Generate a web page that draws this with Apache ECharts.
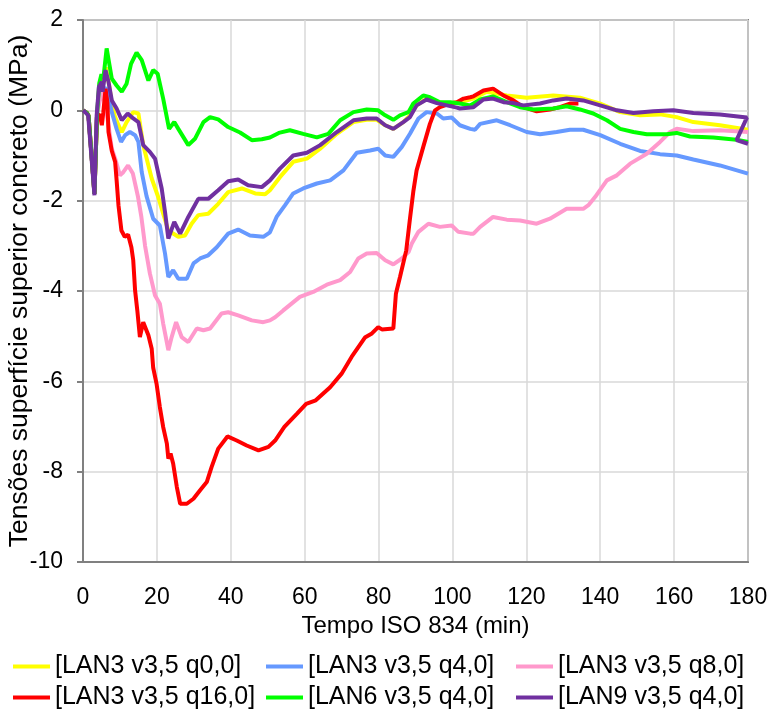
<!DOCTYPE html>
<html>
<head>
<meta charset="utf-8">
<script src="https://cdn.jsdelivr.net/npm/echarts@6/dist/echarts.min.js"></script>
<style>
html,body{margin:0;padding:0;background:#fff;}
#chart{width:771px;height:718px;}
</style>
</head>
<body>
<div id="chart"></div>
<script>
// ---- data ([time (min), stress (MPa)]) ----
const names = ['[LAN3 v3,5 q0,0]','[LAN3 v3,5 q4,0]','[LAN3 v3,5 q8,0]','[LAN3 v3,5 q16,0]','[LAN6 v3,5 q4,0]','[LAN9 v3,5 q4,0]'];
const colors = ['#FFFF00','#6699FF','#FF99CC','#FF0000','#00FF00','#7030A0'];
const xTicks = {min:0, max:180, interval:20};
const yTicks = {min:-10, max:2, interval:2};

const lan3q0 = [[0,0],[1,-0.05],[1.5,-0.12],[3.1,-1.85],[3.8,-0.1],[4.4,0.5],[5.2,0.55],[6.2,0.95],[7,0.6],[7.8,0.15],[8.7,-0.15],[9.6,-0.33],[10.5,-0.48],[11.8,-0.26],[13.6,-0.04],[15,-0.07],[16.3,-0.77],[18.6,-1.51],[20.4,-1.93],[21.7,-2.29],[23.1,-2.66],[25.8,-2.8],[27.6,-2.77],[29.4,-2.51],[31.2,-2.32],[33.9,-2.29],[36.6,-2.07],[39.3,-1.81],[43,-1.73],[46.6,-1.84],[49.3,-1.86],[50.6,-1.77],[53.3,-1.48],[56.9,-1.14],[60.6,-1.07],[64.2,-0.85],[68.7,-0.52],[73.2,-0.26],[76.8,-0.21],[79.5,-0.21],[81.8,-0.33],[84,-0.41],[86.7,-0.26],[88.5,-0.11],[90.3,0.11],[93,0.26],[95.8,0.18],[98.5,0.15],[102,0.18],[105.7,0.26],[109.3,0.41],[114.7,0.33],[120.1,0.28],[127.3,0.33],[134.5,0.28],[140,0.15],[145.4,-0.04],[150.8,-0.11],[156.2,-0.09],[160.7,-0.15],[165.2,-0.26],[172.4,-0.33],[180,-0.43]];

const lan3q4 = [[0,0],[1,-0.05],[1.5,-0.12],[3.1,-1.85],[3.8,-0.1],[4.4,0.4],[5.2,0.5],[6.4,0.48],[7.8,-0.04],[9.1,-0.41],[10.3,-0.7],[11.4,-0.55],[12.7,-0.48],[14.1,-0.55],[15,-0.7],[15.9,-1.37],[17.2,-1.9],[19,-2.4],[20.8,-2.55],[22.2,-3.17],[23.1,-3.69],[24.4,-3.54],[25.8,-3.73],[28.1,-3.73],[29.9,-3.39],[31.7,-3.28],[33.9,-3.21],[36.2,-3.03],[39.3,-2.73],[42,-2.64],[45.2,-2.77],[48.8,-2.8],[50.6,-2.7],[52.4,-2.36],[54.7,-2.1],[56.9,-1.84],[59.6,-1.73],[63.3,-1.62],[66.9,-1.55],[70.5,-1.33],[74.1,-0.94],[77.7,-0.89],[79.9,-0.85],[81.8,-1.0],[84,-1.03],[86.3,-0.81],[88.5,-0.52],[90.8,-0.18],[93,-0.04],[95.8,-0.07],[97.5,-0.18],[99.8,-0.16],[102,-0.33],[104.8,-0.41],[106.1,-0.43],[107.5,-0.3],[112,-0.22],[115.6,-0.33],[120.1,-0.48],[123.7,-0.53],[128.2,-0.48],[131.8,-0.43],[135.4,-0.43],[140,-0.55],[145.4,-0.74],[150.8,-0.9],[156.2,-0.97],[160.7,-1.0],[165.2,-1.09],[172.4,-1.22],[180,-1.4]];

const lan3q8 = [[0,0],[1,-0.05],[1.5,-0.12],[3.1,-1.85],[3.8,-0.1],[4.5,0.2],[5.3,0.4],[6.1,0.1],[6.9,-0.33],[7.8,-0.85],[8.7,-1.07],[10,-1.44],[10.9,-1.37],[12.2,-1.22],[13.5,-1.4],[14.9,-1.92],[15.8,-2.36],[16.8,-3.0],[18.1,-3.61],[19.5,-4.1],[20.8,-4.28],[21.7,-4.72],[23.1,-5.31],[24,-5.02],[25.2,-4.69],[26.7,-5.02],[28.5,-5.13],[30.8,-4.83],[32.6,-4.87],[34.4,-4.83],[37.5,-4.5],[39.3,-4.47],[42,-4.54],[45.7,-4.65],[48.8,-4.69],[50.6,-4.65],[52,-4.58],[54.2,-4.43],[58.7,-4.13],[62.3,-4.02],[66,-3.86],[69.6,-3.76],[72.3,-3.58],[74.5,-3.28],[76.8,-3.17],[79.5,-3.16],[81.8,-3.32],[84,-3.41],[86.3,-3.28],[88.1,-3.14],[89,-2.95],[90.8,-2.69],[93.5,-2.51],[96.6,-2.58],[99.8,-2.55],[101.6,-2.69],[104.8,-2.73],[105.7,-2.73],[107.5,-2.58],[111,-2.36],[114.7,-2.42],[118.3,-2.44],[122.8,-2.51],[126.4,-2.4],[130.9,-2.18],[135.4,-2.18],[136.8,-2.1],[138.6,-1.92],[141.8,-1.55],[144.5,-1.44],[148.1,-1.18],[152.6,-0.96],[156.2,-0.7],[158.9,-0.48],[160.7,-0.41],[165.2,-0.46],[172.4,-0.44],[180,-0.48]];

const lan3q16 = [[0,0],[1,-0.05],[1.5,-0.12],[3.1,-1.85],[3.8,-0.1],[4.6,-0.11],[5.1,-0.33],[5.5,-0.04],[6.1,0.48],[6.6,0.18],[6.9,-0.48],[7.8,-0.9],[8.7,-1.14],[9.1,-1.55],[9.6,-2.1],[10.4,-2.66],[11.3,-2.8],[12.2,-2.75],[13.1,-3.03],[13.6,-3.32],[14.1,-3.99],[14.7,-4.43],[15.4,-5.02],[16.3,-4.69],[17.7,-4.98],[18.6,-5.28],[19,-5.7],[19.9,-6.05],[20.8,-6.57],[21.7,-7.01],[22.7,-7.38],[23.1,-7.71],[23.7,-7.6],[24.4,-7.82],[25.4,-8.34],[26.3,-8.71],[28.1,-8.71],[29.9,-8.6],[31.7,-8.41],[33.5,-8.23],[34.8,-7.9],[36.6,-7.49],[39.1,-7.22],[41.6,-7.31],[44.3,-7.42],[47.5,-7.53],[50.2,-7.45],[52,-7.31],[54.5,-7.01],[58,-6.71],[60.4,-6.5],[63,-6.42],[66.9,-6.13],[70,-5.83],[72.7,-5.46],[76.3,-5.03],[78.2,-4.94],[79.9,-4.8],[80.9,-4.85],[84,-4.83],[84.7,-4.06],[85.8,-3.69],[87.5,-3.1],[88.5,-2.4],[89.4,-1.8],[90.3,-1.33],[92.1,-0.81],[93.9,-0.3],[95.3,0],[96.6,0.07],[99.4,0.15],[101.2,0.18],[103,0.26],[104.8,0.29],[105.7,0.31],[108.4,0.44],[111,0.48],[113.8,0.33],[116.5,0.22],[119.2,0.07],[122.8,-0.02],[126.4,0.02],[129.1,0.07],[131.8,0.15],[134.1,0.15]];

const lan6q4 = [[0,0],[1,-0.05],[1.5,-0.12],[3.1,-1.85],[3.8,-0.1],[4.4,0.6],[5,0.8],[5.5,0.7],[6.4,1.37],[7.8,0.7],[9.1,0.55],[10.5,0.41],[11.8,0.59],[13,1.03],[14.5,1.28],[15.9,1.11],[17.7,0.66],[19,0.89],[20.2,0.81],[21.7,0.26],[23.3,-0.41],[24.7,-0.26],[25.8,-0.41],[28.5,-0.77],[30.3,-0.63],[32.6,-0.26],[34.4,-0.15],[36.6,-0.2],[39.3,-0.37],[42.5,-0.49],[45.7,-0.66],[48.4,-0.64],[50.6,-0.6],[53,-0.5],[56,-0.44],[59.6,-0.52],[63.3,-0.6],[66.4,-0.52],[69.6,-0.22],[73.2,-0.04],[76.8,0.02],[79.9,0],[81.8,-0.11],[84,-0.21],[85.8,-0.11],[88.1,-0.04],[89.4,0.15],[92.1,0.33],[93.9,0.29],[96.6,0.18],[99.4,0.18],[102,0.15],[104.8,0.11],[107.5,0.24],[111,0.31],[114.7,0.18],[118.3,0.07],[121.9,0.02],[127.3,0.04],[130.9,0.09],[134.5,0.02],[138.1,-0.07],[141.8,-0.22],[145.4,-0.41],[149,-0.48],[152.6,-0.53],[158,-0.53],[160.7,-0.5],[164.3,-0.58],[170.6,-0.6],[176.9,-0.65],[180,-0.7]];

const lan9q4 = [[0,0],[0.6,-0.04],[1.4,-0.11],[3.1,-1.88],[3.7,-0.11],[4.3,0.52],[5.1,0.63],[5.3,0.41],[6.1,0.89],[6.9,0.63],[7.8,0.22],[9.1,0.04],[10.5,-0.22],[12.1,-0.07],[13.6,-0.18],[15,-0.26],[16.3,-0.77],[18.1,-0.92],[19.5,-1.07],[21.3,-1.73],[22.2,-2.25],[23.1,-2.84],[24.7,-2.47],[26.3,-2.73],[28.5,-2.36],[31.2,-1.96],[33.9,-1.96],[36.6,-1.77],[39.3,-1.57],[42,-1.53],[44.7,-1.66],[48.4,-1.7],[50.6,-1.55],[53.3,-1.29],[56.9,-1.0],[60.6,-0.94],[64.2,-0.77],[68.7,-0.48],[73.2,-0.22],[76.8,-0.18],[79.5,-0.18],[81.8,-0.33],[84,-0.41],[86.7,-0.26],[88.5,-0.15],[90.3,0.11],[93,0.24],[95.8,0.16],[98.5,0.11],[101.2,0.06],[102,0.04],[105.7,0.07],[108.4,0.24],[111,0.26],[113.8,0.18],[116.5,0.16],[119.2,0.11],[123.7,0.15],[127.3,0.22],[130.9,0.26],[135.4,0.22],[140,0.11],[144.5,0],[149,-0.06],[154.4,-0.02],[159.8,0],[165.2,-0.06],[172.4,-0.09],[179.7,-0.16],[176.9,-0.66],[180,-0.74]];

const seriesData = [lan3q0, lan3q4, lan3q8, lan3q16, lan6q4, lan9q4];

const FONT = '"Liberation Sans", Arial, sans-serif';
const chart = echarts.init(document.getElementById('chart'), null, {renderer:'canvas'});

const legendCommon = {
  orient:'vertical', top:649, itemWidth:37, itemHeight:4, itemGap:6, icon:'rect',
  textStyle:{fontFamily:FONT, fontSize:25, color:'#000'}, selectedMode:false
};

chart.setOption({
  animation:false,
  backgroundColor:'#fff',
  grid:{left:83, right:23, top:20, bottom:156, show:true, borderColor:'#808080', borderWidth:2,
        containLabel:false, outerBoundsMode:'none'},
  legend:[
    Object.assign({left:8, data:[names[0], names[3]]}, legendCommon),
    Object.assign({left:261, data:[names[1], names[4]]}, legendCommon),
    Object.assign({left:511, data:[names[2], names[5]]}, legendCommon)
  ],
  xAxis:{
    type:'value', min:xTicks.min, max:xTicks.max, interval:xTicks.interval,
    name:'Tempo ISO 834 (min)', nameLocation:'middle', nameGap:52, nameMoveOverlap:false,
    nameTextStyle:{fontFamily:FONT, fontSize:24, color:'#000'},
    axisLine:{show:true, onZero:false, lineStyle:{color:'#808080', width:2}},
    axisTick:{show:false},
    axisLabel:{fontFamily:FONT, fontSize:23, color:'#000', margin:24},
    splitLine:{show:true, lineStyle:{color:'#d9d9d9', width:1.5}}
  },
  yAxis:{
    type:'value', min:yTicks.min, max:yTicks.max, interval:yTicks.interval,
    name:'Tensões superfície superior concreto (MPa)', nameLocation:'middle', nameGap:50, nameMoveOverlap:false,
    nameTextStyle:{fontFamily:FONT, fontSize:26.5, color:'#000'},
    axisLine:{show:true, onZero:false, lineStyle:{color:'#808080', width:2}},
    axisTick:{show:true, length:6, lineStyle:{color:'#808080', width:2}},
    axisLabel:{fontFamily:FONT, fontSize:23, color:'#000', margin:20},
    splitLine:{show:true, lineStyle:{color:'#d9d9d9', width:1.5}}
  },
  series: seriesData.map((d,i)=>({
    name:names[i], type:'line', data:d, showSymbol:false, symbol:'none',
    lineStyle:{color:colors[i], width:4}, itemStyle:{color:colors[i]},
    z: 2 + i
  }))
});
</script>
</body>
</html>
